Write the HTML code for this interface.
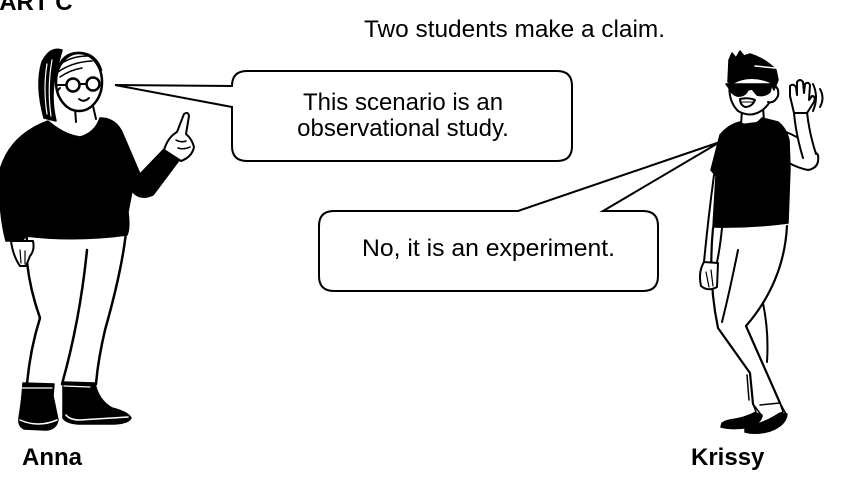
<!DOCTYPE html>
<html>
<head>
<meta charset="utf-8">
<style>
  html, body { margin: 0; padding: 0; background: #fff; }
  body { width: 856px; height: 478px; overflow: hidden; position: relative; }
  svg { position: absolute; left: 0; top: 0; }
  text { font-family: "Liberation Sans", Arial, sans-serif; fill: #000; }
</style>
</head>
<body>
<svg width="856" height="478" viewBox="0 0 856 478" xmlns="http://www.w3.org/2000/svg">
  <!-- Heading -->
  <text x="-15" y="10" font-size="24" font-weight="bold">PART C</text>
  <text x="364" y="37" font-size="24" textLength="301" lengthAdjust="spacingAndGlyphs">Two students make a claim.</text>

  <!-- Bubble 1 -->
  <path d="M 247 71 H 557 Q 572 71 572 86 V 146 Q 572 161 557 161 H 247 Q 232 161 232 146 V 107 L 115 85 L 232 86 Q 232 71 247 71 Z"
        fill="#fff" stroke="#000" stroke-width="2" stroke-linejoin="miter"/>
  <text x="403" y="110" font-size="24" text-anchor="middle">This scenario is an</text>
  <text x="403" y="136" font-size="24" text-anchor="middle">observational study.</text>

  <!-- Bubble 2 -->
  <path d="M 334 211 H 518 L 720 142 L 603 211 H 643 Q 658 211 658 226 V 276 Q 658 291 643 291 H 334 Q 319 291 319 276 V 226 Q 319 211 334 211 Z"
        fill="#fff" stroke="#000" stroke-width="2" stroke-linejoin="miter"/>
  <text x="488.5" y="256" font-size="24" text-anchor="middle" textLength="253" lengthAdjust="spacingAndGlyphs">No, it is an experiment.</text>

  <!-- ================= ANNA ================= -->
  <g stroke="#000" stroke-linecap="round" stroke-linejoin="round">
    <!-- pants -->
    <path d="M 27 236 Q 26 250 27 262 Q 30 290 40 318 Q 30 350 27 384" fill="none" stroke-width="2.5"/>
    <path d="M 87 250 Q 80 320 62 384" fill="none" stroke-width="2.5"/>
    <path d="M 126 232 Q 122 270 105 330 Q 98 360 96 384" fill="none" stroke-width="2.5"/>
    <!-- boots -->
    <path d="M 23 383 L 54 384 L 53 396 Q 56 410 58 420 Q 56 430 45 430 L 24 429 Q 18 426 19 418 Q 22 400 23 383 Z" fill="#000" stroke-width="1.5"/>
    <path d="M 20 420 Q 38 428 57 420" fill="none" stroke="#fff" stroke-width="1.5"/>
    <path d="M 63 382 L 95 383 Q 98 400 112 408 Q 128 412 131 418 Q 128 424 110 424 L 78 424 Q 66 423 63 418 Z" fill="#000" stroke-width="1.5"/>
    <path d="M 66 415 Q 70 420 80 420 L 128 417" fill="none" stroke="#fff" stroke-width="1.5"/>
    <path d="M 22 388 L 52 388 M 64 386 L 90 387" fill="none" stroke="#fff" stroke-width="1.2"/>

    <!-- sweater -->
    <path d="M 48 121 Q 64 135 80 137 Q 95 133 100 118 Q 115 118 122 132 L 140 174 L 164 149 L 180 159 L 153 195 Q 140 201 132 191 L 128 212 Q 130 228 127 235 Q 75 242 26 236 L 22 241 L 6 241 Q 1 222 0 200 L 0 170 Q 10 135 48 121 Z" fill="#000" stroke-width="1.5"/>

    <!-- pointing hand -->
    <path d="M 164 150 Q 168 137 177 132 L 184 114 Q 188 111 189 116 L 186 134 Q 192 139 194 147 Q 192 157 181 161 Z" fill="#fff" stroke-width="2"/>
    <path d="M 176 140 Q 181 143 186 141 M 178 148 Q 184 150 190 147" fill="none" stroke-width="1.5"/>

    <!-- left hand -->
    <path d="M 11 241 L 33 241 Q 35 250 30 256 L 26 266 L 20 266 Q 13 256 11 241 Z" fill="#fff" stroke-width="2"/>
    <path d="M 20 250 L 21 263 M 25 251 L 25 264" fill="none" stroke-width="1.2"/>

    <!-- neck -->
    <path d="M 75 108 L 76 122 M 93 106 L 96 119" fill="none" stroke-width="2"/>

    <!-- ponytail -->
    <path d="M 62 50 Q 50 46 42 62 Q 35 85 44 118 L 56 121 Q 50 96 56 72 Z" fill="#000" stroke-width="1.5"/>
    <path d="M 47 64 Q 43 88 47 114 M 52 60 Q 47 88 51 116" fill="none" stroke="#fff" stroke-width="1.2"/>

    <!-- head -->
    <ellipse cx="79" cy="82" rx="23" ry="29" fill="#fff" stroke-width="2.5"/>
    <!-- hair on head -->
    <path d="M 57 72 Q 62 52 80 53 Q 96 54 101 70" fill="none" stroke-width="2.5"/>
    <path d="M 58 66 Q 70 56 88 56 M 58 72 Q 72 62 92 61 M 60 77 Q 70 70 82 68" fill="none" stroke-width="1.5"/>
    <!-- glasses -->
    <circle cx="73" cy="85" r="6.5" fill="none" stroke-width="2.5"/>
    <circle cx="93" cy="84" r="6.5" fill="none" stroke-width="2.5"/>
    <path d="M 79.5 84 L 86.5 84 M 66.5 85 L 58 85" fill="none" stroke-width="2"/>
    <!-- ear -->
    <path d="M 60 88 Q 55 92 60 98" fill="none" stroke-width="2"/>
    <!-- smile -->
    <path d="M 79 99 Q 84 103 89 98" fill="none" stroke-width="2"/>
  </g>

  <!-- ================= KRISSY ================= -->
  <g stroke="#000" stroke-linecap="round" stroke-linejoin="round">
    <!-- left arm down -->
    <path d="M 714 175 Q 708 220 704 262" fill="none" stroke-width="2"/>
    <path d="M 722 228 Q 720 248 717 262" fill="none" stroke-width="2"/>
    <!-- pants -->
    <path d="M 713 228 Q 708 280 718 328 L 750 373 L 753 404" fill="none" stroke-width="2.2"/>
    <path d="M 738 250 Q 730 290 722 322" fill="none" stroke-width="2"/>
    <path d="M 787 226 Q 784 282 746 326 L 780 403" fill="none" stroke-width="2.2"/>
    <path d="M 763 303 Q 769 332 767 362" fill="none" stroke-width="2"/>
    <path d="M 747 375 L 749 400" fill="none" stroke-width="1.5"/>
    <!-- shoes -->
    <path d="M 753 404 L 756 412 Q 745 418 730 420 Q 720 422 722 427 Q 735 430 750 427 Q 760 424 762 416 Z" fill="#fff" stroke-width="1.5"/>
    <path d="M 722 423 Q 740 420 756 413 L 762 415 Q 760 425 746 427 Q 732 430 721 427 Z" fill="#000" stroke-width="1.5"/>
    <path d="M 780 403 L 783 412 Q 770 420 755 425 Q 746 428 746 431 Q 760 434 772 429 Q 786 422 786 414 Z" fill="#fff" stroke-width="1.5"/>
    <path d="M 745 429 Q 765 423 780 413 L 787 414 Q 786 425 770 431 Q 756 435 745 432 Z" fill="#000" stroke-width="1.5"/>
    <path d="M 760 405 L 780 403" fill="none" stroke-width="1.5"/>

    <!-- left hand -->
    <path d="M 704 262 Q 698 272 701 286 Q 708 292 717 287 L 718 263 Z" fill="#fff" stroke-width="2"/>
    <path d="M 706 272 L 709 287 M 711 270 L 713 286" fill="none" stroke-width="1.2"/>

    <!-- raised arm -->
    <path d="M 786 132 Q 806 140 818 155 Q 820 168 808 170 Q 798 168 789 163 Z" fill="#fff" stroke-width="2"/>
    <path d="M 816 154 Q 809 132 807 112 L 794 113 Q 796 135 803 158" fill="#fff" stroke-width="2"/>
    <!-- hand -->
    <path d="M 794 113 L 790 96 L 790 86 Q 793 83 796 87 L 797 95 L 797 82 Q 800 78 803 82 L 804 93 L 805 84 Q 808 81 810 85 L 809 100 L 812 96 Q 816 96 814 102 L 807 113 Z" fill="#fff" stroke-width="2"/>
    <!-- sound waves -->
    <path d="M 813 84 Q 819 97 813 111" fill="none" stroke-width="2"/>
    <path d="M 820 89 Q 825 98 820 107" fill="none" stroke-width="2"/>

    <!-- neck -->
    <path d="M 742 110 L 741 125 L 764 122 L 763 106 Z" fill="#fff" stroke-width="2"/>

    <!-- shirt -->
    <path d="M 740 122 Q 751 131 762 118 L 778 122 Q 786 128 789 140 L 790 168 L 788 223 Q 750 228 713 227 L 716 176 L 711 170 L 720 135 Q 728 125 740 122 Z" fill="#000" stroke-width="1.5"/>

    <!-- face -->
    <path d="M 730 80 Q 727 100 738 111 Q 750 118 761 111 Q 772 104 774 88 L 772 76 Q 750 70 730 80 Z" fill="#fff" stroke-width="2"/>
    <!-- ear / back of head -->
    <path d="M 770 84 Q 780 86 778 96 Q 774 104 768 102" fill="#fff" stroke-width="2"/>
    <!-- hair -->
    <path d="M 728 82 L 729 60 L 732 53 L 736 58 L 740 51 L 744 56 L 750 54 Q 766 59 776 70 L 778 80 L 774 90 L 770 82 Q 750 74 733 83 Z" fill="#000" stroke-width="1.5"/>
    <path d="M 755 66 L 775 68" fill="none" stroke="#fff" stroke-width="1.5"/>
    <!-- sunglasses -->
    <path d="M 726 84 L 772 84 L 770 92 Q 765 97 757 95 L 752 89 L 748 90 Q 745 97 737 96 Q 731 94 729 88 Z" fill="#000" stroke-width="1.5"/>
    <!-- mouth -->
    <path d="M 740 99 Q 748 97 755 100 Q 752 107 745 107 Q 740 105 740 99 Z" fill="#fff" stroke-width="2"/>
    <path d="M 741 102 L 754 102" fill="none" stroke-width="1"/>
  </g>

  <!-- Names -->
  <text x="22" y="465" font-size="24" font-weight="bold">Anna</text>
  <text x="691" y="465" font-size="24" font-weight="bold">Krissy</text>
</svg>
</body>
</html>
